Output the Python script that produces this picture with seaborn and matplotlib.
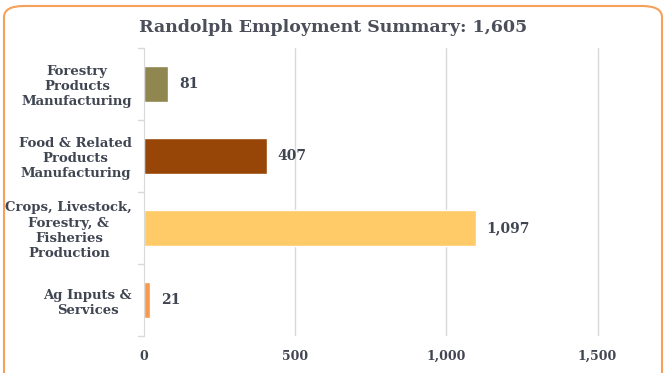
import numpy as np
import pandas as pd
import matplotlib.pyplot as plt
import seaborn as sns
from matplotlib.patches import FancyBboxPatch

categories = ["Forestry\nProducts\nManufacturing",
              "Food & Related\nProducts\nManufacturing",
              "Crops, Livestock,\nForestry, &\nFisheries\nProduction",
              "Ag Inputs &\nServices"]
values = [81, 407, 1097, 21]
bar_colors = ["#8F8650", "#974607", "#FFCA68", "#F79A4E"]
x_ticks = [0, 500, 1000, 1500]
x_labels = ["0", "500", "1,000", "1,500"]

sns.set_style("white")
plt.rcParams['font.family'] = ['DejaVu Serif']
txt = "#404552"

df = pd.DataFrame({"cat": categories, "val": values})

fig = plt.figure(figsize=(6.66, 3.73), dpi=100)
ax = fig.add_axes([144/666, 1-336/373, (655-144)/666, (336-48)/373])

sns.barplot(data=df, y="cat", x="val", hue="cat", palette=bar_colors,
            legend=False, width=0.49, saturation=1, ax=ax)

ax.set_xlim(0, 1690)
ax.set_xticks(x_ticks)
ax.set_xticklabels(x_labels, fontsize=9, fontweight="bold", color=txt)
ax.set_yticks(range(len(categories)))
ax.set_yticklabels(categories, fontsize=9.5, fontweight="bold", color=txt,
                   ha="right", multialignment="center", linespacing=1.22)
ax.tick_params(axis="y", length=0, pad=8.5)
ax.tick_params(axis="x", length=0, pad=10)
ax.set_xlabel("")
ax.set_ylabel("")
for x in x_ticks[1:]:
    ax.axvline(x, color="#D9D9D9", lw=1, zorder=0)
for s in ["top", "right", "bottom"]:
    ax.spines[s].set_visible(False)
ax.spines["left"].set_color("#D9D9D9")
for b in [-0.5, 0.5, 1.5, 2.5, 3.5]:
    ax.plot([-20, 0], [b, b], color="#D9D9D9", lw=1, clip_on=False)

for i, v in enumerate(values):
    ax.text(v + 35, i, f"{v:,}", va="center", ha="left",
            fontsize=10, fontweight="bold", color=txt)

ax.set_ylim(3.5, -0.5)

fig.text(0.5, 1-27/373, "Randolph Employment Summary: 1,605", ha="center",
         va="center", fontsize=12.5, fontweight="bold", color="#4A4F5A")

border = FancyBboxPatch((4/666, -0.03), 1-8/666, 1.03-6/373,
                        boxstyle="round,pad=0,rounding_size=0.03",
                        transform=fig.transFigure, fill=False,
                        ec="#F7A05A", lw=1.5, clip_on=False)
fig.patches.append(border)

fig.savefig("out.png", dpi=100)
